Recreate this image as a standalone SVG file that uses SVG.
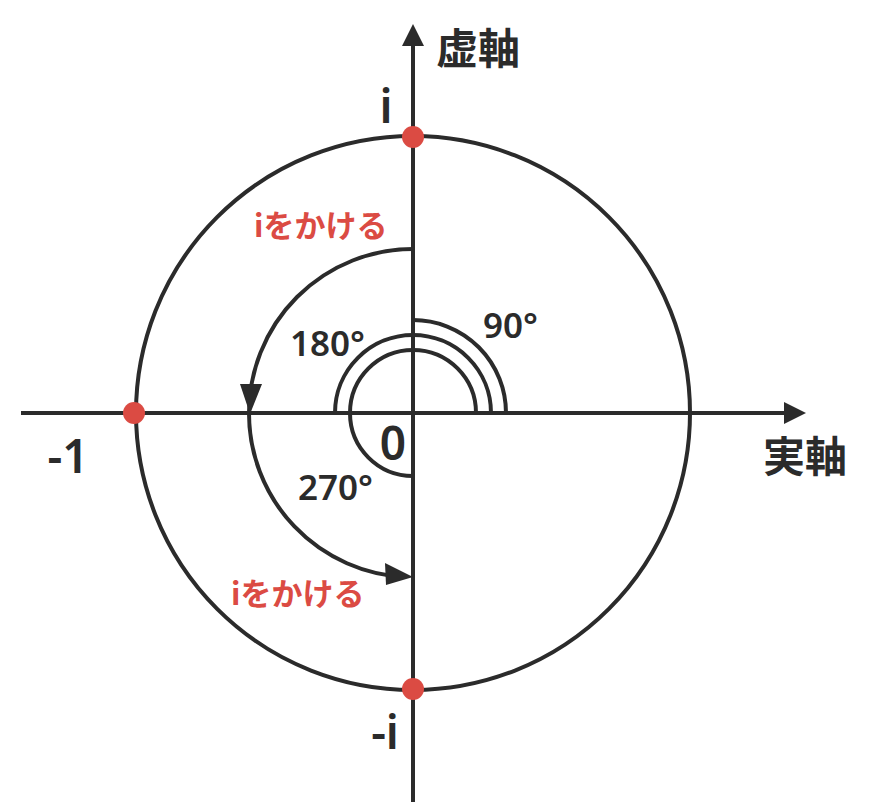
<svg xmlns="http://www.w3.org/2000/svg" width="896" height="812" viewBox="0 0 896 812">
<style>
.ln{fill:none;stroke:#2b2b2b;stroke-width:4}
.ah{fill:#2b2b2b}
.dot{fill:#db4b43}
.lbl{font-family:"Noto Sans","Noto Sans CJK JP",sans-serif;fill:#2b2b2b;font-weight:600}
.ax{font-family:"Noto Sans CJK JP",sans-serif;fill:#2b2b2b;font-weight:bold;font-size:42px}
.red{font-family:"Noto Sans CJK JP",sans-serif;fill:#db4b43;font-weight:bold;font-size:31px}
</style>
<rect width="896" height="812" fill="#ffffff"/>
<g id="connectors">
<circle class="ln" cx="413" cy="413" r="277"/>
<line class="ln" x1="21" y1="413" x2="786" y2="413"/>
<polygon class="ah" points="784,402 806,413 784,424"/>
<line class="ln" x1="413" y1="802" x2="413" y2="44"/>
<polygon class="ah" points="402,46 413,24 424,46"/>
<path class="ln" d="M506 413 A93 93 0 0 0 413 320"/>
<path class="ln" d="M491 413 A78 78 0 0 0 335 413"/>
<path class="ln" d="M476 413 A63 63 0 1 0 413 476"/>
<path class="ln" d="M413 249 A164 164 0 0 0 249 413 A164 164 0 0 0 405 577"/>
<polygon class="ah" points="250,414 240,384 262,384"/>
<polygon class="ah" points="413,577 385,563 386,585"/>
</g>
<g id="point-i"><circle class="dot" cx="413" cy="137" r="11"/><text class="lbl" x="386" y="123" font-size="46" text-anchor="middle">i</text></g>
<g id="point-minus-i"><circle class="dot" cx="413" cy="689" r="11"/><text class="lbl" x="385" y="749" font-size="46" text-anchor="middle">-i</text></g>
<g id="point-minus-1"><circle class="dot" cx="134" cy="413" r="11"/><text class="lbl" x="68" y="473" font-size="46" text-anchor="middle">-1</text></g>
<g id="origin"><text class="lbl" x="393" y="460" font-size="46" text-anchor="middle">0</text></g>
<g id="imag-axis"><text class="ax" x="436" y="64">虚軸</text></g>
<g id="real-axis"><text class="ax" x="763" y="472">実軸</text></g>
<g id="deg90"><text class="lbl" x="483" y="338" font-size="35">90°</text></g>
<g id="deg180"><text class="lbl" x="290" y="356" font-size="35">180°</text></g>
<g id="deg270"><text class="lbl" x="298" y="500" font-size="35">270°</text></g>
<g id="mul-i-top"><text class="red" x="254" y="237">iをかける</text></g>
<g id="mul-i-bottom"><text class="red" x="231" y="605">iをかける</text></g>
</svg>
